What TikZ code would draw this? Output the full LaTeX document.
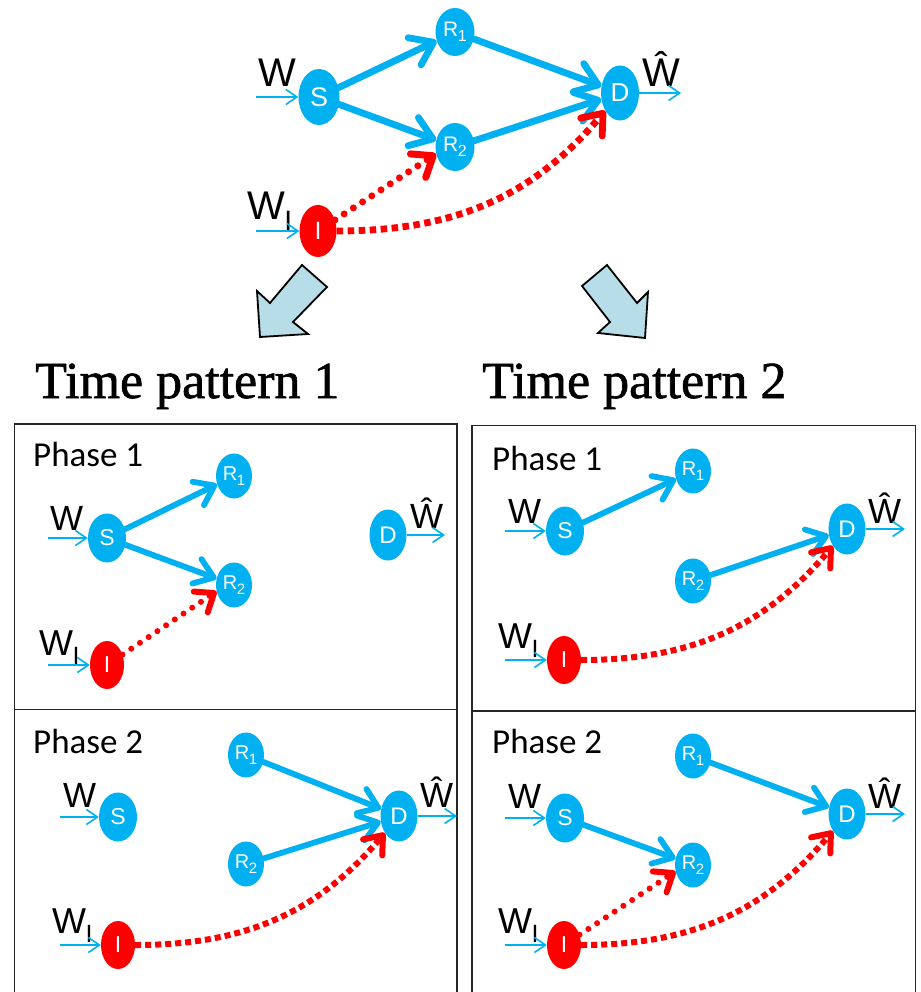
\documentclass[tikz,border=0pt]{standalone}
\usepackage{fontspec}
\setmainfont{Liberation Serif}
\newfontfamily\titlef[FakeBold=1.2]{Liberation Serif}
\newfontfamily\arialf{Liberation Sans}
\newfontfamily\calf{Carlito}
\usetikzlibrary{shapes.geometric,arrows.meta}
\definecolor{nodeblue}{HTML}{00B0F0}
\definecolor{blockfill}{HTML}{B7DEE8}
\newcommand{\fsz}[1]{\fontsize{#1}{#1}\selectfont}
\newcommand{\Rlab}[2]{{\fsz{#1}R\raisebox{-0.25em}{\fsz{#2}\kern-0.5pt1}}}
\newcommand{\Rlabb}[2]{{\fsz{#1}R\raisebox{-0.25em}{\fsz{#2}\kern-0.5pt2}}}
\newcommand{\WIlab}[2]{{\fsz{#1}W\kern-0.5pt\raisebox{-0.27em}{\fsz{#2}I}}}
\begin{document}
\begin{tikzpicture}[x=1pt,y=-1pt,
  bnode/.style={ellipse, fill=nodeblue, text=white, inner sep=0pt, font=\arialf},
  rnode/.style={ellipse, fill=red, text=white, inner sep=0pt, font=\arialf},
  lbl/.style={anchor=base west, inner sep=0pt, font=\arialf},
  phase/.style={anchor=base west, inner sep=0pt, font=\calf\fsz{35}},
  title/.style={anchor=base west, inner sep=0pt, font=\titlef\fsz{52}},
  inarrow/.style={draw=nodeblue, line width=1.6pt, -{Straight Barb[length=11pt,width=15pt]}},
  bedgeT/.style={draw=nodeblue, line width=6.8pt, line cap=round, -{Straight Barb[length=21pt,width=30pt,round]}},
  bedgeP/.style={draw=nodeblue, line width=5.8pt, line cap=round, -{Straight Barb[length=18pt,width=26pt,round]}},
  rdotT/.style={draw=red, line width=7pt, line cap=round, dash pattern=on 0pt off 11pt, -{Straight Barb[length=18pt,width=28pt,round]}},
  rdotP/.style={draw=red, line width=6pt, line cap=round, dash pattern=on 0pt off 10.5pt, -{Straight Barb[length=16pt,width=25pt,round]}},
  rdashT/.style={draw=red, line width=6.8pt, dash pattern=on 6.5pt off 4.5pt, -{Straight Barb[length=18pt,width=28pt,round]}},
  rdashP/.style={draw=red, line width=6pt, dash pattern=on 6pt off 4pt, -{Straight Barb[length=16pt,width=25pt,round]}},
  boxline/.style={draw=black!85, line width=1.4pt},
  blockarrow/.style={draw=black, fill=blockfill, line width=1.8pt, line join=miter}
]
\useasboundingbox (0,0) rectangle (920,992);

% ---------------- top diagram ----------------
\node[bnode, minimum width=41pt, minimum height=56pt, font=\arialf\fsz{27}] (S) at (319,97) {S};
\node[bnode, minimum width=39pt, minimum height=48pt] (R1) at (455,32) {\Rlab{21}{16}};
\node[bnode, minimum width=39pt, minimum height=48pt] (R2) at (455,147) {\Rlabb{21}{16}};
\node[bnode, minimum width=38pt, minimum height=55pt, font=\arialf\fsz{26}] (D) at (620,93) {D};
\node[rnode, minimum width=37pt, minimum height=52pt, font=\arialf\fsz{25}] (I) at (318,231) {I};
\node[lbl, font=\arialf\fsz{40}] (W) at (258,87) {W};
\node[lbl, font=\arialf\fsz{40}] (Wh) at (642,87) {Ŵ};
\node[lbl] (WI) at (247,220) {\WIlab{40}{28}};
\coordinate (wS) at (256,97);
\coordinate (wI) at (256,231);
\coordinate (wD) at (681,93);
\draw[inarrow] (wS) -- (S);
\draw[inarrow] (wI) -- (I);
\draw[inarrow] (D) -- (wD);
\draw[bedgeT] (S) -- (R1);
\draw[bedgeT] (S) -- (R2);
\draw[bedgeT] (R1) -- (D);
\draw[bedgeT] (R2) -- (D);
\draw[rdotT] (I) -- (R2.200);
\draw[rdashT] (I) to[out=0,in=-130] (D);

% ---------------- block arrows ----------------
\draw[blockarrow] (257,291) -- (270,303) -- (302,265) -- (327,287) -- (293,322) -- (308,334) -- (260,337) -- cycle;
\draw[blockarrow] (582,286) -- (607,265) -- (637,303) -- (648,292) -- (645,338) -- (598,333) -- (610,322) -- cycle;

% ---------------- titles ----------------
\node[title] (t1) at (35,398) {Time pattern 1};
\node[title] (t2) at (482,398) {Time pattern 2};

% ---------------- boxes ----------------
\draw[boxline] (14.7,995) -- (14.7,424) -- (457,424) -- (457,995);
\draw[boxline] (14.7,709.5) -- (457,709.5);
\draw[boxline] (472,995) -- (472,425.5) -- (915.5,425.5) -- (915.5,995);
\draw[boxline] (472,711) -- (915.5,711);

% ---------------- panel TL ----------------
\node[phase] (pa) at (33,466) {Phase 1};
\node[bnode, minimum width=38pt, minimum height=49pt, font=\arialf\fsz{23}] (aS) at (107,538) {S};
\node[bnode, minimum width=36pt, minimum height=45pt] (aR1) at (234,476) {\Rlab{20}{15}};
\node[bnode, minimum width=36pt, minimum height=45pt] (aR2) at (234,585) {\Rlabb{20}{15}};
\node[bnode, minimum width=37pt, minimum height=51pt, font=\arialf\fsz{24}] (aD) at (388,535) {D};
\node[rnode, minimum width=34pt, minimum height=48pt, font=\arialf\fsz{23}] (aI) at (107,665) {I};
\node[lbl, font=\arialf\fsz{35}] (aW) at (50,530) {W};
\node[lbl, font=\arialf\fsz{35}] (aWh) at (410,528) {Ŵ};
\node[lbl] (aWI) at (39,655) {\WIlab{36}{25}};
\coordinate (awS) at (48,538);
\coordinate (awI) at (48,665);
\coordinate (awD) at (445,535);
\draw[inarrow] (awS) -- (aS);
\draw[inarrow] (awI) -- (aI);
\draw[inarrow] (aD) -- (awD);
\draw[bedgeP] (aS) -- (aR1);
\draw[bedgeP] (aS) -- (aR2);
\draw[rdotP] (aI) -- (aR2.200);

% ---------------- panel BL ----------------
\node[phase] (pb) at (33,753) {Phase 2};
\node[bnode, minimum width=38pt, minimum height=49pt, font=\arialf\fsz{23}] (bS) at (118,817) {S};
\node[bnode, minimum width=36pt, minimum height=45pt] (bR1) at (246,755) {\Rlab{20}{15}};
\node[bnode, minimum width=36pt, minimum height=45pt] (bR2) at (246,864) {\Rlabb{20}{15}};
\node[bnode, minimum width=37pt, minimum height=51pt, font=\arialf\fsz{24}] (bD) at (399,816) {D};
\node[rnode, minimum width=34pt, minimum height=48pt, font=\arialf\fsz{23}] (bI) at (118,945) {I};
\node[lbl, font=\arialf\fsz{35}] (bW) at (63,807) {W};
\node[lbl, font=\arialf\fsz{35}] (bWh) at (420,807) {Ŵ};
\node[lbl] (bWI) at (52,933) {\WIlab{36}{25}};
\coordinate (bwS) at (60,817);
\coordinate (bwI) at (60,945);
\coordinate (bwD) at (457,816);
\draw[inarrow] (bwS) -- (bS);
\draw[inarrow] (bwI) -- (bI);
\draw[inarrow] (bD) -- (bwD);
\draw[bedgeP] (bR1) -- (bD);
\draw[bedgeP] (bR2) -- (bD);
\draw[rdashP] (bI) to[out=0,in=-130] (bD);

% ---------------- panel TR ----------------
\node[phase] (pc) at (492,470) {Phase 1};
\node[bnode, minimum width=38pt, minimum height=49pt, font=\arialf\fsz{23}] (cS) at (565,531) {S};
\node[bnode, minimum width=36pt, minimum height=45pt] (cR1) at (693,471) {\Rlab{20}{15}};
\node[bnode, minimum width=36pt, minimum height=45pt] (cR2) at (693,581) {\Rlabb{20}{15}};
\node[bnode, minimum width=37pt, minimum height=51pt, font=\arialf\fsz{24}] (cD) at (847,529) {D};
\node[rnode, minimum width=34pt, minimum height=48pt, font=\arialf\fsz{23}] (cI) at (564,660) {I};
\node[lbl, font=\arialf\fsz{35}] (cW) at (508,523) {W};
\node[lbl, font=\arialf\fsz{35}] (cWh) at (868,523) {Ŵ};
\node[lbl] (cWI) at (498,648) {\WIlab{36}{25}};
\coordinate (cwS) at (505,531);
\coordinate (cwI) at (505,660);
\coordinate (cwD) at (905,529);
\draw[inarrow] (cwS) -- (cS);
\draw[inarrow] (cwI) -- (cI);
\draw[inarrow] (cD) -- (cwD);
\draw[bedgeP] (cS) -- (cR1);
\draw[bedgeP] (cR2) -- (cD);
\draw[rdashP] (cI) to[out=0,in=-130] (cD);

% ---------------- panel BR ----------------
\node[phase] (pd) at (492,753) {Phase 2};
\node[bnode, minimum width=38pt, minimum height=49pt, font=\arialf\fsz{23}] (dS) at (565,818) {S};
\node[bnode, minimum width=36pt, minimum height=45pt] (dR1) at (693,756) {\Rlab{20}{15}};
\node[bnode, minimum width=36pt, minimum height=45pt] (dR2) at (693,865) {\Rlabb{20}{15}};
\node[bnode, minimum width=37pt, minimum height=51pt, font=\arialf\fsz{24}] (dD) at (847,814) {D};
\node[rnode, minimum width=34pt, minimum height=48pt, font=\arialf\fsz{23}] (dI) at (564,945) {I};
\node[lbl, font=\arialf\fsz{35}] (dW) at (508,808) {W};
\node[lbl, font=\arialf\fsz{35}] (dWh) at (868,808) {Ŵ};
\node[lbl] (dWI) at (498,933) {\WIlab{36}{25}};
\coordinate (dwS) at (505,818);
\coordinate (dwI) at (505,945);
\coordinate (dwD) at (905,814);
\draw[inarrow] (dwS) -- (dS);
\draw[inarrow] (dwI) -- (dI);
\draw[inarrow] (dD) -- (dwD);
\draw[bedgeP] (dR1) -- (dD);
\draw[bedgeP] (dS) -- (dR2);
\draw[rdotP] (dI) -- (dR2.200);
\draw[rdashP] (dI) to[out=0,in=-130] (dD);
\end{tikzpicture}
\end{document}
